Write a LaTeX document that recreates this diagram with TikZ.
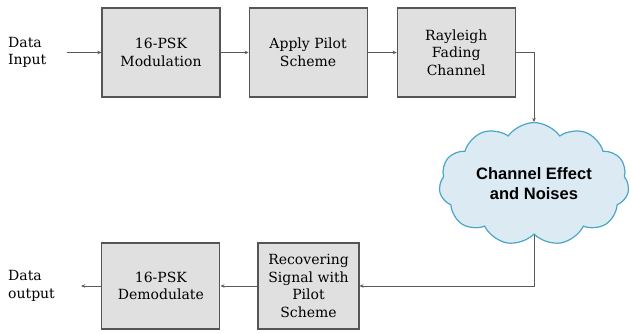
\documentclass[tikz,border=0pt]{standalone}
\usepackage{fontspec}
\setmainfont{DejaVu Serif}
\newfontfamily\cloudfont{Liberation Sans}
\usetikzlibrary{
	positioning,
	arrows.meta,
	shapes.symbols
}
\definecolor{boxcolor}{HTML}{E0E0E0}
\definecolor{boxline}{HTML}{555555}
\definecolor{arrowcolor}{HTML}{5A5A5A}
\definecolor{cloudfill}{HTML}{DCEBF3}
\definecolor{cloudline}{HTML}{4AA6C6}
\tikzset{
	blocknode/.style={
		draw=boxline,
		fill=boxcolor,
		line width=1.1pt,
		minimum width=118pt,
		minimum height=89pt,
		inner sep=2pt,
		align=center,
		font=\fontsize{14}{17.5}\selectfont
	},
	labelnode/.style={
		align=left,
		inner sep=0pt,
		anchor=west,
		font=\fontsize{14}{17.5}\selectfont
	},
	cloudnode/.style={
		cloud,
		cloud puffs=11,
		cloud puff arc=110,
		aspect=1.7,
		draw=cloudline,
		fill=cloudfill,
		line width=1.2pt,
		minimum width=190pt,
		minimum height=108pt,
		align=center,
		font=\cloudfont\bfseries\fontsize{16.5}{20}\selectfont
	},
	arrow/.style={
		-{Stealth[length=4pt,width=3.5pt]},
		color=arrowcolor,
		line width=0.9pt
	}
}

\begin{document}
\begin{tikzpicture}[x=1pt, y=1pt, node distance=28pt]
	\useasboundingbox (0,0) rectangle (632,334);
	
	% top row
	\node[blocknode] (mod) at (161,281.5) {16-PSK\\Modulation};
	\node[blocknode, right=28pt of mod] (pilot) {Apply Pilot\\Scheme};
	\node[blocknode, right=29pt of pilot] (fading) {Rayleigh\\Fading\\Channel};
	\node[labelnode] (datain) at (8,281.5) {Data\\Input};
	
	% channel
	\node[cloudnode] (noise) at (534,150) {Channel Effect\\and Noises};
	
	% bottom row
	\node[blocknode, minimum width=101pt, minimum height=86pt] (recover) at (308.5,48)
	{Recovering\\Signal with\\Pilot\\Scheme};
	\node[blocknode, minimum height=86pt, left=37pt of recover] (demod) {16-PSK\\Demodulate};
	\node[labelnode] (dataout) at (8,48) {Data\\output};
	
	% Arrows
	\draw[arrow, shorten <=20pt] (datain) -- (mod);
	\draw[arrow] (mod) -- (pilot);
	\draw[arrow] (pilot) -- (fading);
	\draw[arrow] (fading.east) -| (noise.north);
	\draw[arrow] (noise.south) |- (recover.east);
	\draw[arrow] (recover) -- (demod);
	\draw[arrow, shorten >=26pt] (demod) -- (dataout);
\end{tikzpicture}
\end{document}
